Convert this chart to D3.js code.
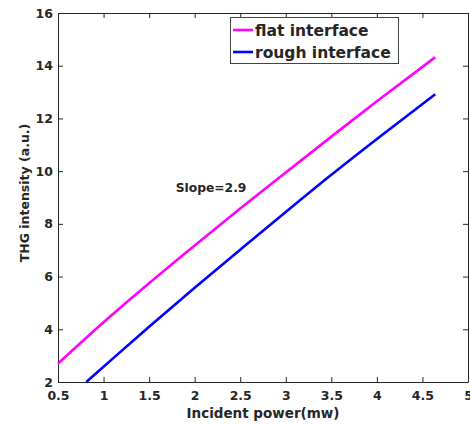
<!DOCTYPE html>
<html>
<head>
<meta charset="utf-8">
<script src="https://cdn.jsdelivr.net/npm/d3@7"></script>
<style>
  body { margin: 0; background: #fff; }
  text { font-family: "DejaVu Sans", sans-serif; font-weight: bold; fill: #262626; }
</style>
</head>
<body>
<svg id="chart" width="470" height="425"></svg>
<script>
// values
var flatX  = [0.5, 1, 1.5, 2, 2.5, 3, 3.5, 4, 4.64];
var flatY  = [2.7, 4.27, 5.75, 7.18, 8.58, 9.95, 11.31, 12.65, 14.32];
var roughX = [0.81, 1, 1.5, 2, 2.5, 3, 3.5, 4, 4.64];
var roughY = [2.0, 2.58, 4.1, 5.58, 7.02, 8.45, 9.86, 11.22, 12.92];
var xTicks = [0.5, 1, 1.5, 2, 2.5, 3, 3.5, 4, 4.5, 5];
var yTicks = [2, 4, 6, 8, 10, 12, 14, 16];
var seriesNames = ['flat interface', 'rough interface'];
var seriesColors = ['#ff00ff', '#0000ff'];

drawChart = function() {
    var svg = d3.select('#chart');
    var m = { left: 58, right: 468, top: 13, bottom: 382 };

    var x = d3.scaleLinear().domain([0.5, 5]).range([m.left, m.right]);
    var y = d3.scaleLinear().domain([2, 16]).range([m.bottom, m.top]);

    function axisStyle(sel) {
        sel.select('.domain').attr('stroke', '#262626');
        sel.selectAll('.tick line').attr('stroke', '#262626');
    }

    // bottom / left with labels, top / right mirrored ticks only
    svg.append('g').attr('transform', 'translate(0,' + m.bottom + ')')
        .call(d3.axisBottom(x).tickValues(xTicks).tickSize(-5).tickSizeOuter(0).tickPadding(9).tickFormat(d3.format('')))
        .call(axisStyle)
        .selectAll('text').style('font-size', '12.5px').attr('fill', '#262626');
    svg.append('g').attr('transform', 'translate(0,' + m.top + ')')
        .call(d3.axisTop(x).tickValues(xTicks).tickSize(-5).tickSizeOuter(0).tickFormat(''))
        .call(axisStyle);
    svg.append('g').attr('transform', 'translate(' + m.left + ',0)')
        .call(d3.axisLeft(y).tickValues(yTicks).tickSize(-5).tickSizeOuter(0).tickPadding(5))
        .call(axisStyle)
        .selectAll('text').style('font-size', '12.5px').attr('fill', '#262626');
    svg.append('g').attr('transform', 'translate(' + m.right + ',0)')
        .call(d3.axisRight(y).tickValues(yTicks).tickSize(-5).tickSizeOuter(0).tickFormat(''))
        .call(axisStyle);

    var line = d3.line()
        .curve(d3.curveMonotoneX)
        .x(function(d) { return x(d[0]); })
        .y(function(d) { return y(d[1]); });
    var series = [d3.zip(flatX, flatY), d3.zip(roughX, roughY)];

    series.forEach(function(s, i) {
        svg.append('path').datum(s)
            .attr('d', line)
            .attr('fill', 'none')
            .attr('stroke', seriesColors[i])
            .attr('stroke-width', 2.6);
    });

    // legend box
    var leg = svg.append('g');
    leg.append('rect').attr('x', 230.5).attr('y', 17.5).attr('width', 168).attr('height', 46)
        .attr('fill', '#fff').attr('stroke', '#444').attr('stroke-width', 1);
    seriesNames.forEach(function(name, i) {
        var yy = 30 + i * 22;
        leg.append('line').attr('x1', 233).attr('x2', 253).attr('y1', yy).attr('y2', yy)
            .attr('stroke', seriesColors[i]).attr('stroke-width', 2.6);
        leg.append('text').attr('x', 255).attr('y', yy + 6)
            .style('font-size', '15.5px').attr('fill', '#000').text(name);
    });

    svg.append('text').attr('x', 211).attr('y', 192).attr('text-anchor', 'middle')
        .style('font-size', '12.3px').attr('fill', '#000').text('Slope=2.9');

    svg.append('text').attr('x', (m.left + m.right) / 2).attr('y', 418).attr('text-anchor', 'middle')
        .style('font-size', '13.5px').text('Incident power(mw)');
    svg.append('text').attr('transform', 'translate(29,193) rotate(-90)').attr('text-anchor', 'middle')
        .style('font-size', '12.5px').text('THG intensity (a.u.)');
};

drawChart();
</script>
</body>
</html>
